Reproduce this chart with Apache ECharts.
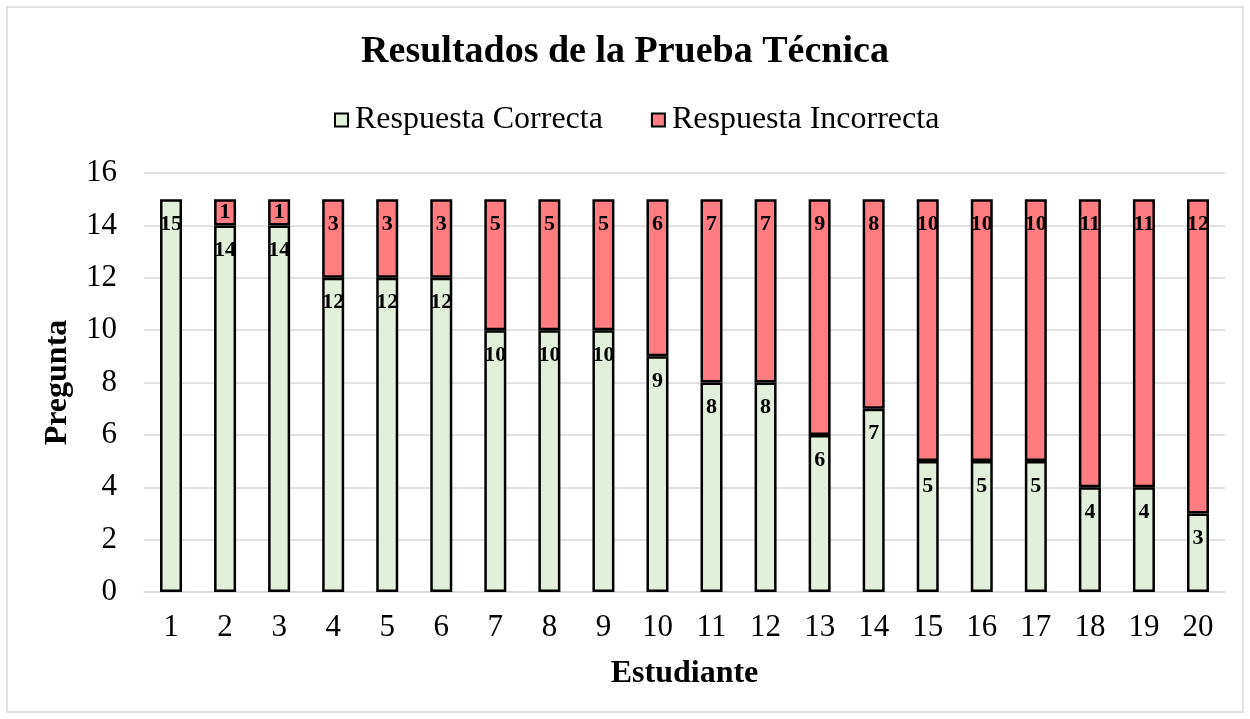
<!DOCTYPE html>
<html>
<head>
<meta charset="utf-8">
<script src="https://cdn.jsdelivr.net/npm/echarts@6/dist/echarts.min.js"></script>
<style>
  html, body { margin: 0; padding: 0; background: #fff; }
  #chart { width: 1250px; height: 719px; }
</style>
</head>
<body>
<div id="chart"></div>
<script>
// datos del gráfico
const estudiantes = ['1', '2', '3', '4', '5', '6', '7', '8', '9', '10',
  '11', '12', '13', '14', '15', '16', '17', '18', '19', '20']
const correctas = [15, 14, 14, 12, 12, 12, 10, 10, 10, 9, 8, 8, 6, 7, 5, 5, 5, 4, 4, 3]
const incorrectas = [0, 1, 1, 3, 3, 3, 5, 5, 5, 6, 7, 7, 9, 8, 10, 10, 10, 11, 11, 12]

const FONT = '"Liberation Serif", "Times New Roman", serif'

// etiqueta dentro del extremo superior; si el tramo es pequeño se centra
const buildData = (values) => values.map(v => {
  if (v === 0) return { value: v, label: { show: false }, itemStyle: { borderWidth: 0 } }
  if (v <= 1) return { value: v, label: { position: 'inside', distance: 0 } }
  return v
})

const labelStyle = {
  show: true,
  position: 'insideTop',
  distance: 14,
  color: '#000',
  fontFamily: FONT,
  fontWeight: 'bold',
  fontSize: 22
}

const chart = echarts.init(document.getElementById('chart'))

chart.setOption({
  animation: false,
  textStyle: { fontFamily: FONT },
  title: {
    text: 'Resultados de la Prueba Técnica',
    left: 'center',
    top: 28,
    textStyle: { fontFamily: FONT, fontSize: 38, fontWeight: 'bold', color: '#000' }
  },
  legend: {
    top: 99,
    left: 329,
    itemWidth: 13,
    itemHeight: 13,
    itemGap: 48,
    icon: 'rect',
    textStyle: { fontFamily: FONT, fontSize: 32, color: '#000', padding: [0, 0, 0, 2] },
    data: ['Respuesta Correcta', 'Respuesta Incorrecta']
  },
  graphic: [{
    type: 'rect',
    shape: { x: 7, y: 7, width: 1236, height: 705 },
    style: { fill: 'none', stroke: '#d9d9d9', lineWidth: 1.5 },
    silent: true
  }],
  grid: { left: 144, right: 25, top: 173, bottom: 127 },
  xAxis: {
    type: 'category',
    data: estudiantes,
    name: 'Estudiante',
    nameLocation: 'middle',
    nameGap: 66,
    nameTextStyle: { fontFamily: FONT, fontSize: 32, fontWeight: 'bold', color: '#000' },
    axisLine: { show: true, lineStyle: { color: '#d9d9d9', width: 1.5 } },
    axisTick: { show: false },
    axisLabel: { fontFamily: FONT, fontSize: 31, color: '#000', margin: 20 }
  },
  yAxis: {
    type: 'value',
    min: 0,
    max: 16,
    interval: 2,
    name: 'Pregunta',
    nameLocation: 'middle',
    nameGap: 70,
    nameTextStyle: { fontFamily: FONT, fontSize: 32, fontWeight: 'bold', color: '#000' },
    axisLine: { show: false },
    axisTick: { show: false },
    axisLabel: { fontFamily: FONT, fontSize: 31, color: '#000', margin: 27 },
    splitLine: { lineStyle: { color: '#d9d9d9', width: 1.5 } }
  },
  series: [
    {
      name: 'Respuesta Correcta',
      type: 'bar',
      stack: 'total',
      barWidth: 22,
      itemStyle: { color: '#E2EFDA', borderColor: '#000', borderWidth: 2.5 },
      label: labelStyle,
      data: buildData(correctas)
    },
    {
      name: 'Respuesta Incorrecta',
      type: 'bar',
      stack: 'total',
      barWidth: 22,
      itemStyle: { color: '#FF7C80', borderColor: '#000', borderWidth: 2.5 },
      label: labelStyle,
      data: buildData(incorrectas)
    }
  ]
})
</script>
</body>
</html>
